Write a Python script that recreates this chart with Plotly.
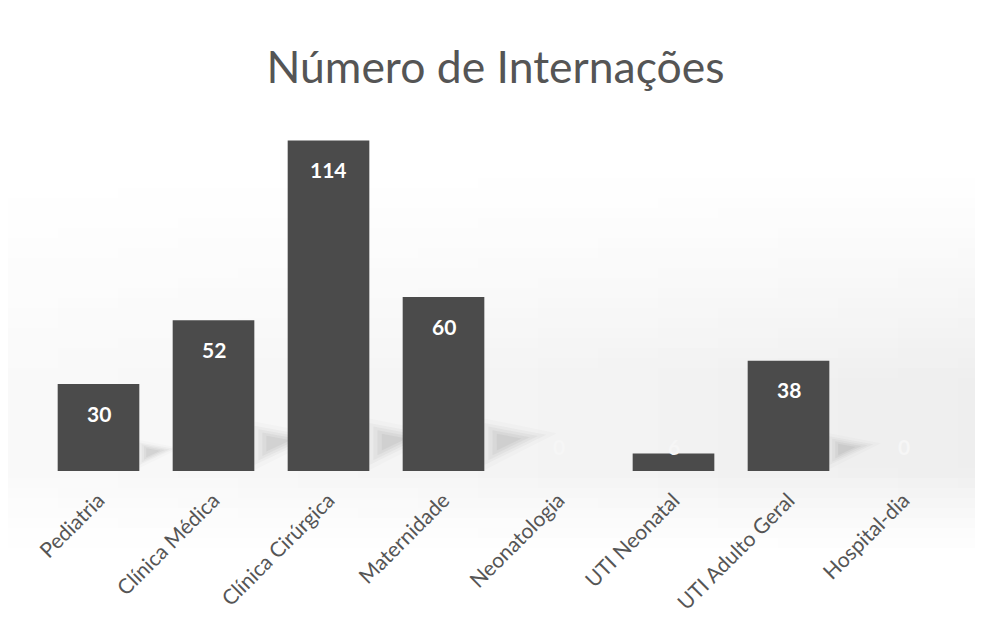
import math
import plotly.graph_objects as go

categories = ["Pediatria", "Clínica Médica", "Clínica Cirúrgica", "Maternidade",
              "Neonatologia", "UTI Neonatal", "UTI Adulto Geral", "Hospital-dia"]
values = [30, 52, 114, 60, 0, 6, 38, 0]
title_text = "Número de Internações"

FONT = "Lato, 'Open Sans', sans-serif"
W, H = 975, 627          # page has an 8px body margin
L, R, T, B = 33, 22, 115, 164
PW, PH = W - L - R, H - T - B
YMAX = 120
BARW = 0.71
CAT_PX = PW / len(categories)
UNIT_PX = PH / YMAX

fig = go.Figure()
fig.add_trace(go.Bar(
    x=categories, y=values,
    marker=dict(color="#4b4b4b", line=dict(width=0)),
    width=BARW,
    hoverinfo="x+y",
))

# data labels (inside end; small bars get label just above base)
for c, v in zip(categories, values):
    if v >= 20:
        fig.add_annotation(x=c, y=v, yshift=-29, text=f"<b>{v}</b>", showarrow=False,
                           font=dict(family=FONT, size=21, color="white"))
    else:
        fig.add_annotation(x=c, y=0, yshift=25, text=f"<b>{v}</b>", showarrow=False,
                           font=dict(family=FONT, size=21, color="#f6f6f6"))

# soft grey background gradient (decoration)
def px2paper_x(px):
    return (px - L) / PW

def px2paper_y(py):
    return (H - B - py) / PH

ystep, xstep = 10, 60
for py in range(150, 560, ystep):
    yc = py + ystep / 2
    if yc < 370:
        a_y = max(0.0, (yc - 150) / 220)
    elif yc < 462:
        a_y = 1.0
    else:
        a_y = max(0.0, 1 - (yc - 462) / 90)
    a_y = a_y ** 1.3
    for px in range(-10, W, xstep):
        xc = px + xstep / 2
        a_x = 0.35 + 0.65 * (xc / W)
        alpha = 0.10 * a_y * a_x
        if alpha < 0.004:
            continue
        fig.add_shape(type="rect", xref="paper", yref="paper",
                      x0=px2paper_x(px), x1=px2paper_x(px + xstep),
                      y0=px2paper_y(py + ystep), y1=px2paper_y(py),
                      fillcolor=f"rgba(90,90,90,{alpha:.4f})", line_width=0, layer="below")

# soft wedge shadows to the right of the bars (derived from bar index/value)
for i, v in enumerate(values):
    if v < 10:
        continue
    hpx = v * UNIT_PX
    span = min(42.0, 0.26 * hpx)
    length = min(62.0, 0.40 * hpx)
    # wedge in pixel offsets relative to (bar right edge, baseline); y up
    pts = [(0, 6), (0, 6 + span), (length, 6 + span * 0.72)]
    cx = sum(p[0] for p in pts) / 3
    cy = sum(p[1] for p in pts) / 3
    xr = i + BARW / 2
    for s, a in [(1.25, 0.025), (1.0, 0.035), (0.8, 0.045), (0.6, 0.055), (0.4, 0.06)]:
        sp = [(cx + (px_ - cx) * s, cy + (py_ - cy) * s) for px_, py_ in pts]
        sp = [(max(px_, 0.0), max(py_, 1.0)) for px_, py_ in sp]
        coords = [(xr + px_ / CAT_PX, py_ / UNIT_PX) for px_, py_ in sp]
        path = "M " + " L ".join(f"{x:.4f},{y:.4f}" for x, y in coords) + " Z"
        fig.add_shape(type="path", xref="x", yref="y", path=path,
                      fillcolor=f"rgba(70,70,70,{a})", line_width=0, layer="below")

fig.update_layout(
    width=W, height=H,
    paper_bgcolor="white", plot_bgcolor="rgba(0,0,0,0)",
    margin=dict(l=L, r=R, t=T, b=B, autoexpand=False),
    title=dict(text=title_text, x=0.5, xanchor="center", y=0.905, yanchor="middle",
               font=dict(family=FONT, size=44.5, color="#555555")),
    showlegend=False,
    xaxis=dict(tickangle=-45, tickfont=dict(family=FONT, size=21, color="#555555"),
               showline=False, showgrid=False, ticks="", automargin=False,
               ticklabelstandoff=12),
    yaxis=dict(range=[0, YMAX], visible=False, showgrid=False, automargin=False),
)

fig.write_html("out.html")
